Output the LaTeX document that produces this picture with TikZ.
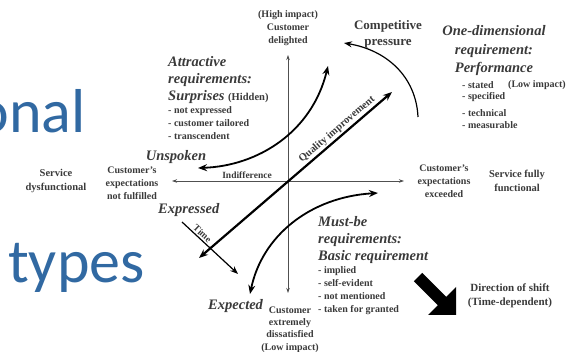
\documentclass[tikz,border=0pt]{standalone}
\usepackage{fontspec}
\setmainfont{Liberation Serif}
\newfontfamily\titlefont{Carlito}
\usetikzlibrary{arrows.meta}
\definecolor{inkgray}{HTML}{3A3A3A}
\definecolor{axisgray}{HTML}{505050}
\definecolor{titleblue}{HTML}{3169A2}

\begin{document}
\begin{tikzpicture}[x=1pt,y=-1pt,
  lbl/.style={font=\fontsize{10}{13}\selectfont\bfseries, text=inkgray, align=center, inner sep=0pt},
  itemlist/.style={font=\fontsize{10}{13}\selectfont\bfseries, text=inkgray, align=left, inner sep=0pt, anchor=west},
  heading/.style={font=\fontsize{14.5}{17}\selectfont\bfseries\itshape, text=inkgray, align=left, inner sep=0pt},
  bigtitle/.style={font=\titlefont\fontsize{62}{64}\selectfont, text=titleblue, inner sep=0pt},
  axisline/.style={draw=axisgray, line width=0.7pt, {Stealth[length=5pt,width=3.5pt]}-{Stealth[length=5pt,width=3.5pt]}},
  qualityline/.style={draw=black, line width=2.2pt, {Stealth[length=9pt,width=7pt]}-{Stealth[length=9pt,width=7pt]}},
  curveline/.style={draw=black, line width=1.8pt},
  thinarrow/.style={draw=black, line width=1.2pt, -{Stealth[length=8pt,width=6pt]}},
]
\useasboundingbox (0,0) rectangle (570,352);

% slide title fragments
\node[bigtitle, anchor=base east] (titleA) at (86,133) {onal};
\node[bigtitle, anchor=base west] (titleB) at (8,283) {types};

% axes
\coordinate (vtop) at (288,55);
\coordinate (vbot) at (288,293);
\coordinate (hleft) at (172,181);
\coordinate (hright) at (404,181);
\draw[axisline] (vbot) -- (vtop);
\draw[axisline] (hleft) -- (hright);

% quality improvement diagonal
\coordinate (qlow) at (199,258);
\coordinate (qhigh) at (392,92);
\draw[qualityline] (qlow) -- node[pos=0.74, sloped, above=1.5pt, font=\fontsize{10.5}{12}\selectfont\bfseries, text=inkgray, inner sep=0pt] (qlabel) {Quality improvement} (qhigh);

% attractive requirement curve
\coordinate (attL) at (198,168);
\coordinate (attT) at (328,66);
\draw[curveline, {Stealth[length=9pt,width=7pt]}-{Stealth[length=9pt,width=7pt]}]
  (attL) .. controls (258,166) and (312,132) .. (attT);

% must-be requirement curve
\coordinate (mbB) at (250,294);
\coordinate (mbR) at (378,193);
\draw[curveline, {Stealth[length=9pt,width=7pt]}-{Stealth[length=9pt,width=7pt]}]
  (mbB) .. controls (262,236) and (310,197) .. (mbR);

% competitive pressure arc
\coordinate (cpS) at (418,117);
\coordinate (cpE) at (344,43);
\draw[thinarrow] (cpS) .. controls (416,76) and (386,50) .. (cpE);

% time arrow
\coordinate (tS) at (182,222);
\coordinate (tE) at (238,274);
\draw[thinarrow] (tS) -- node[pos=0.3, sloped, above=1.5pt, font=\fontsize{9.5}{11}\selectfont\bfseries, text=inkgray, inner sep=0pt] (tlabel) {Time} (tE);

% direction of shift marker
\fill[black] (413.8,281.2) -- (422.2,272.8) -- (446.2,296.8) -- (456,287)
  -- (456,315) -- (428,315) -- (437.8,305.2) -- cycle;

% axis labels
\node[lbl] (delighted) at (288,28) {(High impact)\\Customer\\delighted};
\node[lbl, font=\fontsize{10}{12.3}\selectfont\bfseries] (dissat) at (290,329.5) {Customer\\extremely\\dissatisfied\\(Low impact)};
\node[lbl] (notful) at (132,183) {Customer's\\expectations\\not fulfilled};
\node[lbl, font=\fontsize{10.5}{14}\selectfont\bfseries] (dysf) at (56,181) {Service\\dysfunctional};
\node[lbl] (exceed) at (444,181) {Customer's\\expectations\\exceeded};
\node[lbl, font=\fontsize{10.5}{14}\selectfont\bfseries] (fully) at (517,181) {Service fully\\functional};
\node[lbl, font=\fontsize{9.5}{11}\selectfont\bfseries] (indiff) at (247,175) {Indifference};
\node[lbl, font=\fontsize{13}{16}\selectfont\bfseries] (compet) at (388,34) {Competitive\\pressure};
\node[lbl, font=\fontsize{11}{14}\selectfont\bfseries] (shift) at (510,296) {Direction of shift\\(Time-dependent)};

% one-dimensional requirements
\node[heading, align=center, font=\fontsize{14.5}{18.5}\selectfont\bfseries\itshape] (onedim) at (494,51) {One-dimensional\\requirement:\\Performance};
\node[itemlist] (stated) at (462,85) {- stated};
\node[itemlist] (lowimp) at (508,85) {(Low impact)};
\node[itemlist] (specified) at (462,97) {- specified};
\node[itemlist] (technical) at (462,113) {- technical};
\node[itemlist] (measurable) at (462,125) {- measurable};

% attractive requirements
\node[heading, anchor=west] (attr) at (168,80) {Attractive\\requirements:\\Surprises {\fontsize{10.5}{17}\selectfont\upshape (Hidden)}};
\node[itemlist] (attritems) at (168,123) {- not expressed\\- customer tailored\\- transcendent};
\node[heading] (unspoken) at (176,157) {Unspoken};
\node[heading, anchor=west] (expressed) at (158,210) {Expressed};

% must-be requirements
\node[heading, anchor=west] (mustbe) at (318,240) {Must-be\\requirements:\\Basic requirement};
\node[itemlist] (mbitems) at (318,290.5) {- implied\\- self-evident\\- not mentioned\\- taken for granted};
\node[heading, anchor=west] (expected) at (208,306) {Expected};

\end{tikzpicture}
\end{document}
